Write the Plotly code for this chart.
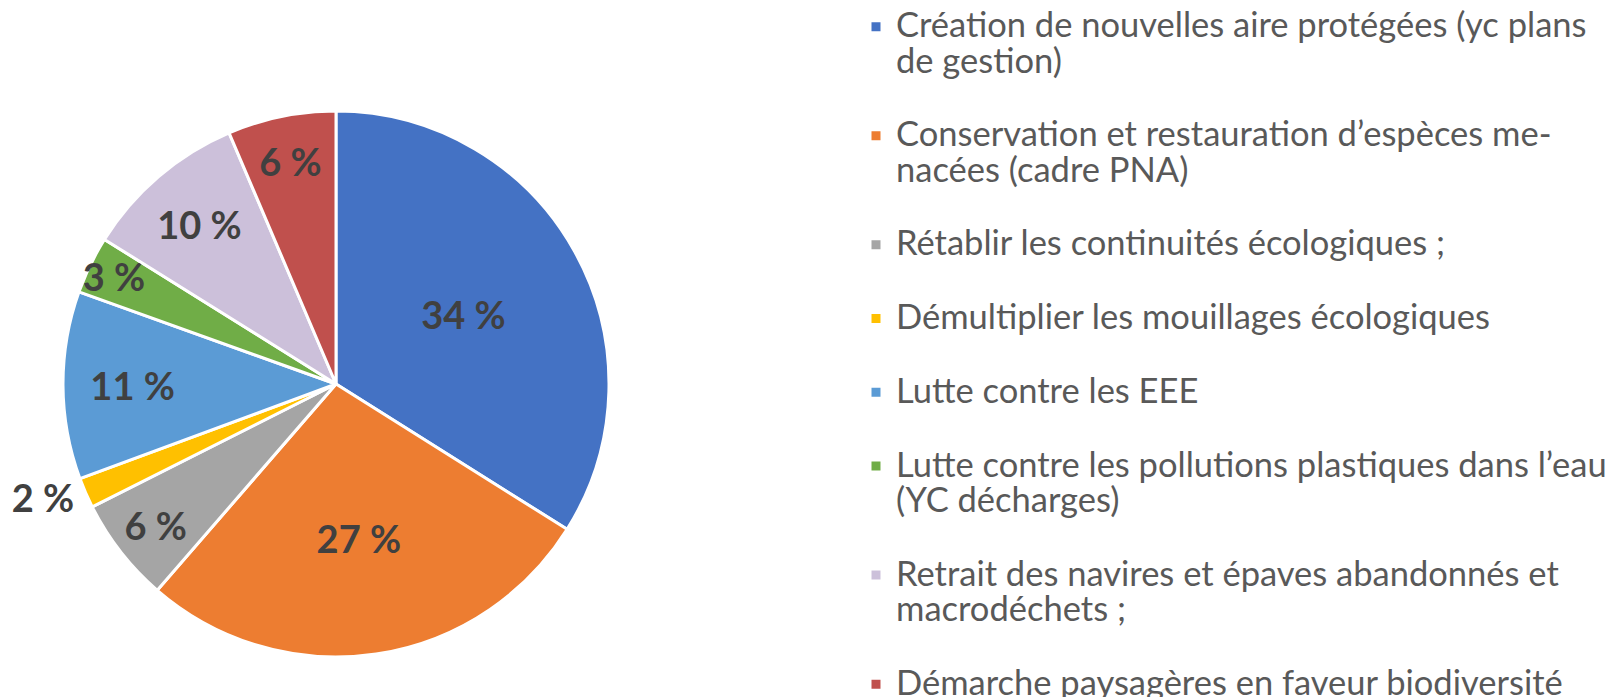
import plotly.graph_objects as go

categories = [
    ["Création de nouvelles aire protégées (yc plans", "de gestion)"],
    ["Conservation et restauration d’espèces me-", "nacées (cadre PNA)"],
    ["Rétablir les continuités écologiques ;"],
    ["Démultiplier les mouillages écologiques"],
    ["Lutte contre les EEE"],
    ["Lutte contre les pollutions plastiques dans l’eau", "(YC décharges)"],
    ["Retrait des navires et épaves abandonnés et", "macrodéchets ;"],
    ["Démarche paysagères en faveur biodiversité"],
]
values = [33.9, 27.4, 6.2, 1.8, 11.1, 3.4, 9.7, 6.4]
colors = ["#4472C4", "#ED7D31", "#A5A5A5", "#FFC000", "#5B9BD5", "#70AD47", "#CCC0DA", "#C0504D"]
text_positions = ["inside", "inside", "inside", "outside", "inside", "inside", "inside", "inside"]

total = sum(values)
pct_text = [f"{round(v / total * 100)} %" for v in values]

# Legend text drawn larger than the legend's own font so that the line pitch stays tight
LEG_TXT = 34.5
legend_labels = []
for i, lines in enumerate(categories):
    s = "<br>".join(f"<span style='font-size:{LEG_TXT}px'>{ln}</span>" for ln in lines)
    if i < len(categories) - 1:
        s += "<br> "
    legend_labels.append(s)

W, H = 1617, 697
OFF = 8  # page body margin
cx, cy, r = 336 - OFF, 384 - OFF, 273

fig = go.Figure(go.Pie(
    labels=legend_labels,
    values=values,
    text=pct_text,
    textinfo="text",
    textposition=text_positions,
    insidetextorientation="horizontal",
    sort=False,
    direction="clockwise",
    marker=dict(colors=colors, line=dict(color="white", width=3)),
    textfont=dict(family="Lato", size=38, color="#404040", weight="bold"),
    domain=dict(x=[(cx - r) / W, (cx + r) / W], y=[1 - (cy + r) / H, 1 - (cy - r) / H]),
    hoverinfo="percent",
))

fig.update_layout(
    width=W, height=H,
    margin=dict(l=0, r=0, t=0, b=0, autoexpand=False),
    paper_bgcolor="white",
    plot_bgcolor="white",
    showlegend=True,
    uniformtext=dict(minsize=38, mode="show"),
    legend=dict(
        x=848 / W, xanchor="left",
        y=1 + 5.5 / H, yanchor="top",
        font=dict(family="Lato", size=27.2, color="#595959"),
        valign="top",
        maxheight=1000,
        bgcolor="rgba(0,0,0,0)",
    ),
)

fig.write_html("out.html")
